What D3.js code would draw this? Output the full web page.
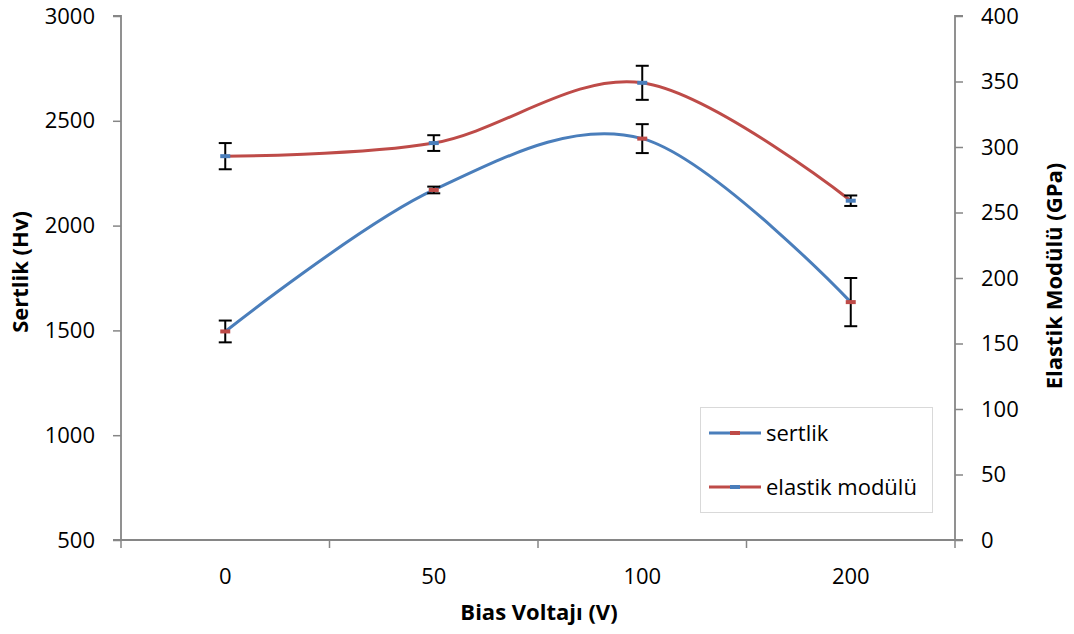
<!DOCTYPE html>
<html><head><meta charset="utf-8">
<script src="https://cdn.jsdelivr.net/npm/d3@7"></script>
<style>body{margin:0;background:#fff}svg{display:block}</style>
</head><body>
<svg id="c" width="1074" height="634"></svg>
<script>
const categories = ["0", "50", "100", "200"];
const sertlik = [1495, 2170, 2415, 1635];
const sertlikErr = [52, 16, 69, 115];
const elastik = [293, 303, 349, 259];
const elastikErr = [10, 6, 13, 4];
const leftTicks = [500, 1000, 1500, 2000, 2500, 3000];
const rightTicks = [0, 50, 100, 150, 200, 250, 300, 350, 400];
const seriesNames = ["sertlik", "elastik modülü"];

const W = 1074, H = 634;
const m = {l: 121, r: 955, t: 16, b: 540};
const font = "'Open Sans', sans-serif";
const blue = "#4a7ebb", red = "#be4b48", axisC = "#868686";

const svg = d3.select("#c");
const x = d3.scaleBand().domain(categories).range([m.l, m.r]).padding(0);
const yL = d3.scaleLinear().domain([500, 3000]).range([m.b, m.t]);
const yR = d3.scaleLinear().domain([0, 400]).range([m.b, m.t]);
const cx = c => x(c) + x.bandwidth() / 2;

// axes
const gL = svg.append("g").attr("transform", `translate(${m.l},0)`)
  .call(d3.axisLeft(yL).tickValues(leftTicks).tickSize(8).tickPadding(18).tickFormat(d3.format("d")));
const gR = svg.append("g").attr("transform", `translate(${m.r},0)`)
  .call(d3.axisRight(yR).tickValues(rightTicks).tickSize(8).tickPadding(18).tickFormat(d3.format("d")));
const gX = svg.append("g").attr("transform", `translate(0,${m.b})`)
  .call(d3.axisBottom(x).tickSize(0).tickPadding(28));
const bounds = categories.map(c => x(c)).concat([m.r]);
gX.selectAll(".bt").data(bounds).enter().append("line")
  .attr("x1", d => d).attr("x2", d => d).attr("y1", 0).attr("y2", 8)
  .attr("stroke", axisC).attr("stroke-width", 1.5);
[gL, gR, gX].forEach(g => {
  g.select(".domain").attr("stroke", axisC).attr("stroke-width", 1.8).attr("fill", "none");
  g.selectAll(".tick line").attr("stroke", axisC).attr("stroke-width", 1.5);
  g.selectAll(".tick text").attr("fill", "#000").style("font-family", font).style("font-size", "22px");
});
gL.select(".domain").attr("d", `M-8,${m.t}H0V${m.b}`);
gR.select(".domain").attr("d", `M8,${m.t}H0V${m.b}`);
gX.select(".domain").attr("d", `M${m.l - 8},0H${m.r + 8}`);

// axis titles
const tStyle = t => t.style("font-family", font).style("font-weight", "bold").style("font-size", "22px").attr("text-anchor", "middle");
svg.append("text").attr("x", 539).attr("y", 620).call(tStyle).text("Bias Voltajı (V)");
svg.append("text").attr("transform", `translate(28,272) rotate(-90)`).call(tStyle).text("Sertlik (Hv)");
svg.append("text").attr("transform", `translate(1062,276) rotate(-90)`).call(tStyle).text("Elastik Modülü (GPa)");

const curve = d3.curveCardinal.tension(0);
const series = [
  {vals: sertlik, err: sertlikErr, y: yL, color: blue, mark: red},
  {vals: elastik, err: elastikErr, y: yR, color: red, mark: blue}
];
series.forEach(s => {
  const pts = categories.map((c, i) => [cx(c), s.y(s.vals[i])]);
  svg.append("path").attr("d", d3.line().curve(curve)(pts))
    .attr("fill", "none").attr("stroke", s.color).attr("stroke-width", 3).attr("stroke-linecap", "round");
});
series.forEach(s => {
  const g = svg.append("g");
  categories.forEach((c, i) => {
    const px = cx(c), y1 = s.y(s.vals[i] + s.err[i]), y2 = s.y(s.vals[i] - s.err[i]);
    g.append("line").attr("x1", px).attr("x2", px).attr("y1", y1).attr("y2", y2).attr("stroke", "#000").attr("stroke-width", 2);
    [y1, y2].forEach(yy => g.append("line").attr("x1", px - 6.5).attr("x2", px + 6.5).attr("y1", yy).attr("y2", yy).attr("stroke", "#000").attr("stroke-width", 2));
  });
});
series.forEach(s => {
  categories.forEach((c, i) => {
    svg.append("rect").attr("x", cx(c) - 5).attr("y", s.y(s.vals[i]) - 2).attr("width", 10).attr("height", 4).attr("fill", s.mark);
  });
});

// legend
const lg = svg.append("g");
lg.append("rect").attr("x", 700.5).attr("y", 407.5).attr("width", 232).attr("height", 105)
  .attr("fill", "#fff").attr("stroke", "#d9d9d9").attr("stroke-width", 1);
seriesNames.forEach((n, i) => {
  const yy = 433 + i * 54, s = series[i];
  lg.append("line").attr("x1", 709).attr("x2", 761).attr("y1", yy).attr("y2", yy).attr("stroke", s.color).attr("stroke-width", 3);
  lg.append("rect").attr("x", 730).attr("y", yy - 2).attr("width", 10).attr("height", 4).attr("fill", s.mark);
  lg.append("text").attr("x", 766).attr("y", yy + 8).style("font-family", font).style("font-size", "22px").text(n);
});
</script>
</body></html>
